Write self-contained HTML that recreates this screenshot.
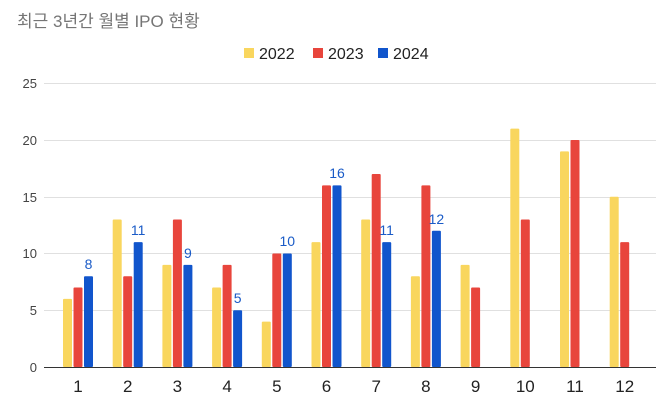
<!DOCTYPE html>
<html><head><meta charset="utf-8"><style>
body{margin:0;background:#fff;}
svg{display:block;font-family:"Liberation Sans","Noto Sans CJK KR",sans-serif;}
</style></head><body>
<svg width="670" height="406" viewBox="0 0 670 406">
<rect width="670" height="406" fill="#fff"/>
<text x="17" y="27" font-size="17" fill="#757575">최근 3년간 월별 IPO 현황</text>
<rect x="244" y="48" width="10" height="10" fill="#f9d65e"/>
<text x="259" y="59" font-size="16" fill="#222">2022</text>
<rect x="313" y="48" width="10" height="10" fill="#e8453c"/>
<text x="328" y="59" font-size="16" fill="#222">2023</text>
<rect x="378" y="48" width="10" height="10" fill="#1155cc"/>
<text x="393" y="59" font-size="16" fill="#222">2024</text>
<g stroke="#e0e0e0" stroke-width="1">
<line x1="44" x2="656" y1="83.5" y2="83.5"/>
<line x1="44" x2="656" y1="140.5" y2="140.5"/>
<line x1="44" x2="656" y1="197.5" y2="197.5"/>
<line x1="44" x2="656" y1="253.5" y2="253.5"/>
<line x1="44" x2="656" y1="310.5" y2="310.5"/>
</g>
<g font-size="13" fill="#444" text-anchor="end">
<text x="37" y="88">25</text><text x="37" y="145">20</text><text x="37" y="202">15</text>
<text x="37" y="258">10</text><text x="37" y="315">5</text><text x="37" y="372">0</text>
</g>
<g fill="#f9d65e">
<rect x="63" y="298.9" width="9" height="68.1" rx="1"/>
<rect x="112.7" y="219.45" width="9" height="147.55" rx="1"/>
<rect x="162.4" y="264.85" width="9" height="102.15" rx="1"/>
<rect x="212.1" y="287.55" width="9" height="79.45" rx="1"/>
<rect x="261.8" y="321.6" width="9" height="45.4" rx="1"/>
<rect x="311.5" y="242.15" width="9" height="124.85" rx="1"/>
<rect x="361.2" y="219.45" width="9" height="147.55" rx="1"/>
<rect x="410.9" y="276.2" width="9" height="90.8" rx="1"/>
<rect x="460.6" y="264.85" width="9" height="102.15" rx="1"/>
<rect x="510.3" y="128.65" width="9" height="238.35" rx="1"/>
<rect x="560" y="151.35" width="9" height="215.65" rx="1"/>
<rect x="609.7" y="196.75" width="9" height="170.25" rx="1"/>
</g>
<g fill="#e8453c">
<rect x="73.5" y="287.55" width="9" height="79.45" rx="1"/>
<rect x="123.2" y="276.2" width="9" height="90.8" rx="1"/>
<rect x="172.9" y="219.45" width="9" height="147.55" rx="1"/>
<rect x="222.6" y="264.85" width="9" height="102.15" rx="1"/>
<rect x="272.3" y="253.5" width="9" height="113.5" rx="1"/>
<rect x="322" y="185.4" width="9" height="181.6" rx="1"/>
<rect x="371.7" y="174.05" width="9" height="192.95" rx="1"/>
<rect x="421.4" y="185.4" width="9" height="181.6" rx="1"/>
<rect x="471.1" y="287.55" width="9" height="79.45" rx="1"/>
<rect x="520.8" y="219.45" width="9" height="147.55" rx="1"/>
<rect x="570.5" y="140" width="9" height="227" rx="1"/>
<rect x="620.2" y="242.15" width="9" height="124.85" rx="1"/>
</g>
<g fill="#1155cc">
<rect x="84" y="276.2" width="9" height="90.8" rx="1"/>
<rect x="133.7" y="242.15" width="9" height="124.85" rx="1"/>
<rect x="183.4" y="264.85" width="9" height="102.15" rx="1"/>
<rect x="233.1" y="310.25" width="9" height="56.75" rx="1"/>
<rect x="282.8" y="253.5" width="9" height="113.5" rx="1"/>
<rect x="332.5" y="185.4" width="9" height="181.6" rx="1"/>
<rect x="382.2" y="242.15" width="9" height="124.85" rx="1"/>
<rect x="431.9" y="230.8" width="9" height="136.2" rx="1"/>
</g>
<line x1="44" x2="656" y1="367.5" y2="367.5" stroke="#333" stroke-width="1"/>
<g font-size="17" fill="#222" text-anchor="middle">
<text x="78" y="392">1</text><text x="127.7" y="392">2</text><text x="177.4" y="392">3</text>
<text x="227.1" y="392">4</text><text x="276.8" y="392">5</text><text x="326.5" y="392">6</text>
<text x="376.2" y="392">7</text><text x="425.9" y="392">8</text><text x="475.6" y="392">9</text>
<text x="525.3" y="392">10</text><text x="575" y="392">11</text><text x="624.7" y="392">12</text>
</g>
<g font-size="14" fill="#1a5bc7" text-anchor="middle">
<text x="88.5" y="269">8</text>
<text x="138.2" y="235">11</text>
<text x="187.9" y="258">9</text>
<text x="237.6" y="303">5</text>
<text x="287.3" y="246">10</text>
<text x="337" y="178">16</text>
<text x="386.7" y="235">11</text>
<text x="436.4" y="224">12</text>
</g>
</svg>
</body></html>
